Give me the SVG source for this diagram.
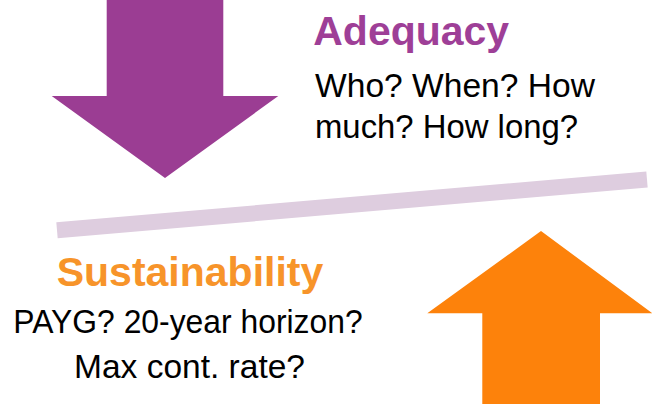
<svg xmlns="http://www.w3.org/2000/svg" width="652" height="404" viewBox="0 0 652 404">
  <style>
    .title { font-family: "Liberation Sans", Arial, sans-serif; font-weight: bold; font-size: 41px; }
    .body { font-family: "Liberation Sans", Arial, sans-serif; font-size: 34px; fill: #000000; }
  </style>
  <rect width="652" height="404" fill="#ffffff"/>
  <g id="beam">
    <line x1="57" y1="230.3" x2="647" y2="179.5" stroke="#DECDDF" stroke-width="16"/>
  </g>
  <g id="adequacy-arrow">
    <polygon points="106.7,0 223.3,0 223.3,96 278.3,96 165,178 51.7,96 106.7,96" fill="#9B3D93"/>
  </g>
  <g id="sustainability-arrow">
    <polygon points="541,231 652.3,313.3 600,313.3 600,404 482.3,404 482.3,313.3 427.3,313.3" fill="#FD820B"/>
  </g>
  <g id="adequacy-label">
    <text class="title" x="313.3" y="45" fill="#9E3F97" textLength="195.7" lengthAdjust="spacingAndGlyphs">Adequacy</text>
    <text class="body" x="315" y="96.7" textLength="280" lengthAdjust="spacingAndGlyphs">Who? When? How</text>
    <text class="body" x="315" y="138.3" textLength="263" lengthAdjust="spacingAndGlyphs">much? How long?</text>
  </g>
  <g id="sustainability-label">
    <text class="title" x="56.7" y="286" fill="#F7942A" textLength="266.6" lengthAdjust="spacingAndGlyphs">Sustainability</text>
    <text class="body" x="13.3" y="333.3" textLength="349.4" lengthAdjust="spacingAndGlyphs">PAYG? 20-year horizon?</text>
    <text class="body" x="74" y="378.3" textLength="231" lengthAdjust="spacingAndGlyphs">Max cont. rate?</text>
  </g>
</svg>
